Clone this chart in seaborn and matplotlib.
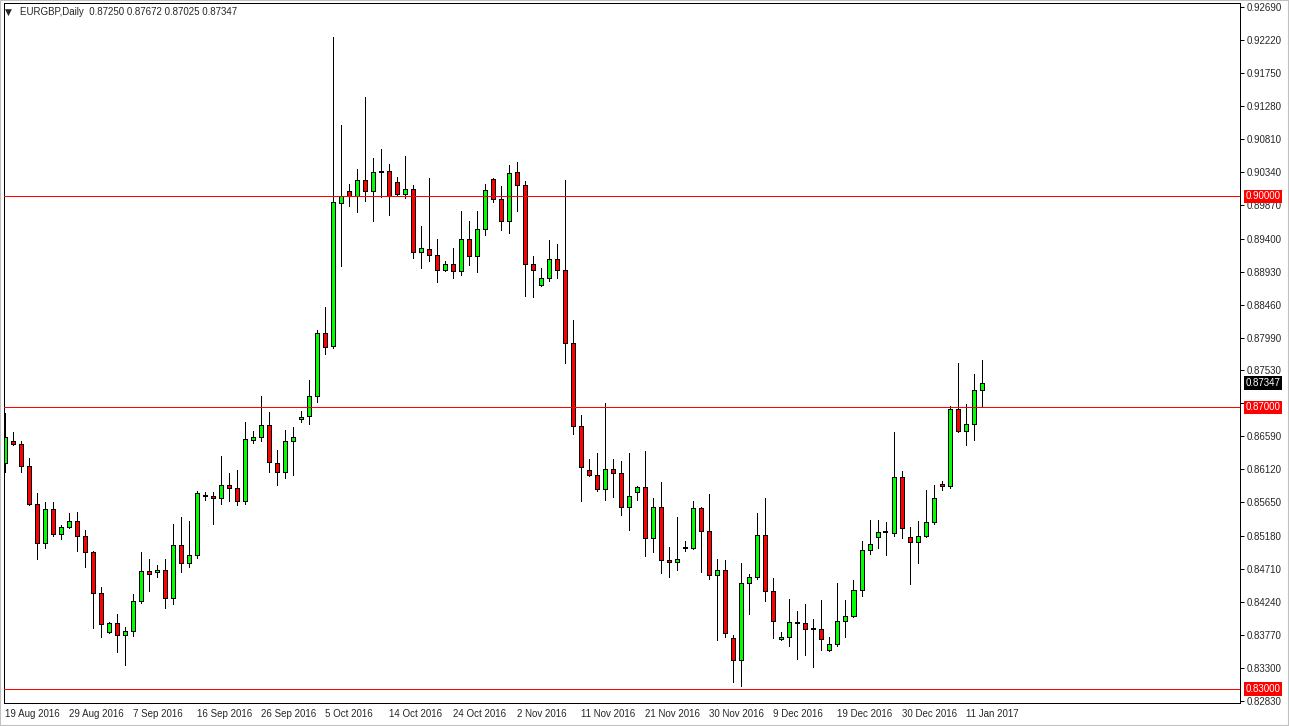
import numpy as np
import pandas as pd
import matplotlib
matplotlib.use("Agg")
import matplotlib.pyplot as plt
import seaborn as sns

# EURGBP daily bars, 19 Aug 2016 .. 13 Jan 2017 (MT4 feed, with Sunday bars)
open_ = [0.86206, 0.86528, 0.86476, 0.86168, 0.85624, 0.85070, 0.85553, 0.85198, 0.85297, 0.85382,
         0.85169, 0.84942, 0.84359, 0.83805, 0.83933, 0.83762, 0.83819, 0.84246, 0.84672, 0.84658,
         0.84686, 0.84288, 0.85041, 0.84785, 0.84899, 0.85738, 0.85738, 0.85709, 0.85894, 0.85851,
         0.85667, 0.86534, 0.86576, 0.86746, 0.86206, 0.86079, 0.86520, 0.86832, 0.86874, 0.87159,
         0.88054, 0.87873, 0.89901, 0.90080, 0.90009, 0.90228, 0.90080, 0.90347, 0.90356, 0.90200,
         0.90038, 0.90100, 0.89205, 0.89247, 0.89162, 0.88949, 0.89034, 0.88935, 0.89390, 0.89148,
         0.89532, 0.90242, 0.89958, 0.89645, 0.90342, 0.90157, 0.89034, 0.88736, 0.88835, 0.89105,
         0.88949, 0.87912, 0.86732, 0.86107, 0.86036, 0.85837, 0.86121, 0.86064, 0.85581, 0.85794,
         0.85866, 0.85141, 0.85581, 0.84828, 0.84800, 0.84999, 0.84999, 0.85567, 0.85240, 0.84615,
         0.84686, 0.83720, 0.83407, 0.84501, 0.84587, 0.85183, 0.84388, 0.83706, 0.83734, 0.83942,
         0.83933, 0.83848, 0.83848, 0.83549, 0.83634, 0.83961, 0.84032, 0.84402, 0.84970, 0.85155,
         0.85223, 0.85212, 0.86008, 0.85155, 0.85084, 0.85169, 0.85368, 0.85908, 0.85880, 0.86974,
         0.86661, 0.86761, 0.87250]
high = [0.86917, 0.86647, 0.86528, 0.86278, 0.85780, 0.85652, 0.85652, 0.85325, 0.85496, 0.85510,
        0.85254, 0.84965, 0.84444, 0.83947, 0.84061, 0.83876, 0.84345, 0.84942, 0.84842, 0.84757,
        0.84842, 0.85340, 0.85439, 0.85382, 0.85809, 0.85794, 0.85794, 0.86306, 0.86064, 0.86107,
        0.86789, 0.86661, 0.87159, 0.86931, 0.86391, 0.86675, 0.86718, 0.86945, 0.87390, 0.88101,
        0.88432, 0.92260, 0.91009, 0.90175, 0.90389, 0.91407, 0.90545, 0.90673, 0.90455, 0.90275,
        0.90573, 0.90161, 0.89583, 0.90265, 0.89390, 0.89081, 0.89262, 0.89787, 0.89650, 0.89792,
        0.90171, 0.90261, 0.90143, 0.90441, 0.90484, 0.90214, 0.89148, 0.88978, 0.89376, 0.89318,
        0.90228, 0.88239, 0.86889, 0.86263, 0.86349, 0.87059, 0.86263, 0.86235, 0.86349, 0.85880,
        0.86377, 0.85709, 0.85937, 0.85013, 0.85439, 0.85098, 0.85667, 0.85581, 0.85766, 0.84842,
        0.84828, 0.83762, 0.84785, 0.84629, 0.85496, 0.85709, 0.84572, 0.83805, 0.84274, 0.84103,
        0.84203, 0.83990, 0.84260, 0.83734, 0.84501, 0.84260, 0.84544, 0.85098, 0.85396, 0.85396,
        0.85372, 0.86647, 0.86093, 0.85297, 0.85382, 0.85827, 0.85894, 0.85951, 0.87016, 0.87627,
        0.87045, 0.87471, 0.87672]
low = [0.86087, 0.86470, 0.86087, 0.85615, 0.84842, 0.84999, 0.85178, 0.85127, 0.85290, 0.84965,
       0.84729, 0.83870, 0.83742, 0.83791, 0.83521, 0.83336, 0.83748, 0.84217, 0.84388, 0.84587,
       0.84143, 0.84203, 0.84666, 0.84729, 0.84857, 0.85681, 0.85340, 0.85624, 0.85667, 0.85610,
       0.85624, 0.86491, 0.86520, 0.86079, 0.85894, 0.85993, 0.86036, 0.86789, 0.86761, 0.87073,
       0.87760, 0.87841, 0.89014, 0.89867, 0.89782, 0.89938, 0.89654, 0.89986, 0.89735, 0.90009,
       0.89973, 0.89120, 0.88986, 0.89085, 0.88787, 0.88945, 0.88835, 0.88875, 0.89020, 0.88921,
       0.89446, 0.89915, 0.89522, 0.89475, 0.89787, 0.88580, 0.88565, 0.88722, 0.88793, 0.88835,
       0.87627, 0.86619, 0.85667, 0.86022, 0.85806, 0.85681, 0.85723, 0.85468, 0.85254, 0.85681,
       0.84885, 0.84942, 0.84643, 0.84587, 0.84686, 0.84956, 0.84995, 0.84658, 0.84559, 0.83691,
       0.83734, 0.83095, 0.83038, 0.84061, 0.84559, 0.84246, 0.83720, 0.83691, 0.83606, 0.83421,
       0.83478, 0.83308, 0.83549, 0.83545, 0.83606, 0.83734, 0.84028, 0.84317, 0.84914, 0.84999,
       0.84896, 0.85166, 0.85149, 0.84496, 0.84794, 0.85155, 0.85340, 0.85823, 0.85851, 0.86647,
       0.86462, 0.86534, 0.87025]
close = [0.86576, 0.86476, 0.86168, 0.85624, 0.85070, 0.85553, 0.85198, 0.85297, 0.85382, 0.85169,
         0.84942, 0.84359, 0.83919, 0.83933, 0.83762, 0.83819, 0.84246, 0.84672, 0.84629, 0.84686,
         0.84288, 0.85041, 0.84785, 0.84899, 0.85780, 0.85738, 0.85709, 0.85894, 0.85851, 0.85667,
         0.86548, 0.86576, 0.86746, 0.86221, 0.86079, 0.86520, 0.86576, 0.86860, 0.87159, 0.88054,
         0.87863, 0.89915, 0.90009, 0.90009, 0.90228, 0.90080, 0.90342, 0.90347, 0.90005, 0.90038,
         0.90100, 0.89205, 0.89262, 0.89162, 0.88958, 0.89034, 0.88935, 0.89390, 0.89148, 0.89532,
         0.90086, 0.89958, 0.89645, 0.90327, 0.90157, 0.89034, 0.88949, 0.88835, 0.89105, 0.88949,
         0.87912, 0.86732, 0.86150, 0.86036, 0.85837, 0.86121, 0.86064, 0.85581, 0.85738, 0.85866,
         0.85141, 0.85581, 0.84828, 0.84800, 0.84842, 0.84999, 0.85567, 0.85240, 0.84615, 0.84686,
         0.83791, 0.83407, 0.84501, 0.84587, 0.85183, 0.84388, 0.83961, 0.83734, 0.83947, 0.83942,
         0.83848, 0.83848, 0.83706, 0.83634, 0.83961, 0.84032, 0.84402, 0.84970, 0.85055, 0.85226,
         0.85223, 0.86008, 0.85283, 0.85084, 0.85169, 0.85368, 0.85709, 0.85880, 0.86974, 0.86661,
         0.86761, 0.87244, 0.87347]

date_labels = ["19 Aug 2016", "29 Aug 2016", "7 Sep 2016", "16 Sep 2016", "26 Sep 2016",
               "5 Oct 2016", "14 Oct 2016", "24 Oct 2016", "2 Nov 2016", "11 Nov 2016",
               "21 Nov 2016", "30 Nov 2016", "9 Dec 2016", "19 Dec 2016", "30 Dec 2016",
               "11 Jan 2017"]
label_every = 8

price_ticks = [0.92690, 0.92220, 0.91750, 0.91280, 0.90810, 0.90340, 0.89870, 0.89400,
               0.88930, 0.88460, 0.87990, 0.87530, 0.87060, 0.86590, 0.86120, 0.85650,
               0.85180, 0.84710, 0.84240, 0.83770, 0.83300, 0.82830]
level_lines = [0.90000, 0.87000, 0.83000]
symbol = "EURGBP,Daily"

sns.set_style("white")
plt.rcParams['font.family'] = ['Liberation Sans', 'DejaVu Sans']

df = pd.DataFrame({'open': open_, 'high': high, 'low': low, 'close': close})
df['bar'] = np.arange(len(df))
bull = df[df['close'] > df['open']]
bear = df[df['close'] < df['open']]
doji = df[df['close'] == df['open']]

W, H = 1289, 726
fig = plt.figure(figsize=(W / 100, H / 100), dpi=100)
fig.patch.set_facecolor('white')
ax = fig.add_axes([4 / W, 1 - 703 / H, 1236 / W, 700 / H])

px = 0.72  # one pixel in points
ax.vlines(df['bar'], df['low'], df['high'], color='black', lw=px, zorder=1, antialiased=False)
ax.bar(bull['bar'], bull['close'] - bull['open'], bottom=bull['open'], width=0.5,
       color='#00ff00', edgecolor='black', linewidth=px, zorder=2, antialiased=False)
ax.bar(bear['bar'], bear['open'] - bear['close'], bottom=bear['close'], width=0.5,
       color='#ff0000', edgecolor='black', linewidth=px, zorder=2, antialiased=False)
ax.hlines(doji['open'], doji['bar'] - 0.3, doji['bar'] + 0.3, color='black', lw=1.4, zorder=2,
          antialiased=False)

for lvl in level_lines:
    ax.axhline(lvl, color='#ff0000', lw=px, zorder=3, antialiased=False)

ax.set_xlim(-0.16, 154.3)
ax.set_ylim(0.82800, 0.92747)

ax.set_xticks(np.arange(0, len(date_labels) * label_every, label_every))
ax.set_xticklabels(date_labels, fontsize=7, ha='left')
ax.yaxis.tick_right()
ax.set_yticks(price_ticks)
# the 0.87060 scale label sits under the 0.87000 level label, so it is left blank
hidden = [abs(p - lvl) < 0.0008 for p in price_ticks for lvl in [0.87000]]
ax.set_yticklabels(['' if h else f'{p:.5f}' for p, h in zip(price_ticks, hidden)], fontsize=7)
ax.tick_params(axis='both', length=3, width=px, color='black', direction='out', pad=2)
ax.tick_params(axis='x', pad=1)
for s in ax.spines.values():
    s.set_color('black')
    s.set_linewidth(px)

# highlighted level / price labels on the price scale
for lvl in level_lines:
    ax.text(1.0045, lvl, f'{lvl:.5f}', transform=ax.get_yaxis_transform(), ha='left',
            va='center', color='white', fontsize=7, zorder=6, clip_on=False,
            bbox=dict(boxstyle='square,pad=0.18', fc='#ff0000', ec='none'))
ax.text(1.0045, close[-1], f'{close[-1]:.5f}', transform=ax.get_yaxis_transform(), ha='left',
        va='center', color='white', fontsize=7, zorder=6, clip_on=False,
        bbox=dict(boxstyle='square,pad=0.18', fc='black', ec='none'))

# chart header
fig.text(5 / W, 1 - 12 / H, '\u25bc', fontsize=6.5, va='center', ha='left',
         family=['DejaVu Sans'])
fig.text(20 / W, 1 - 12 / H,
         f'{symbol}  {open_[-1]:.5f} {high[-1]:.5f} {low[-1]:.5f} {close[-1]:.5f}',
         fontsize=7, va='center', ha='left')

fig.patches.append(plt.Rectangle((0, 0), 1, 1, transform=fig.transFigure, fill=False,
                                 ec='#c0c0c0', lw=1.5))

fig.savefig('out.png', dpi=100)
plt.close()
